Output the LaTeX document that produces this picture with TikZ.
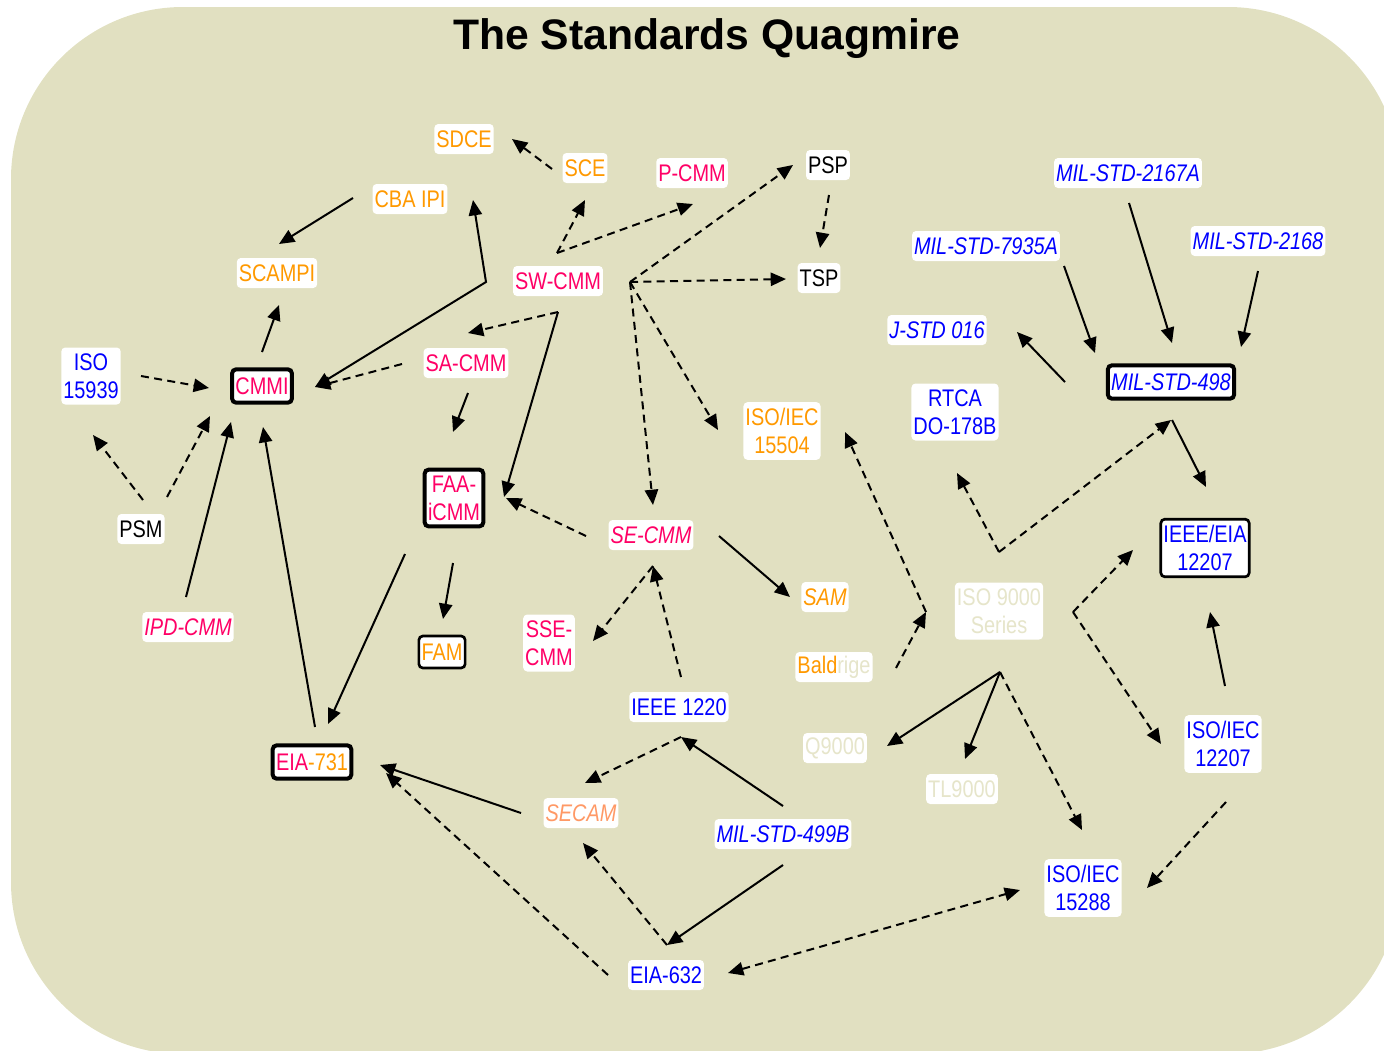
\documentclass[tikz,border=0pt]{standalone}
\usepackage{fontspec}
\setmainfont{Liberation Sans}
\newfontfamily\lblfont[FakeStretch=0.83]{Liberation Sans}
\usepackage{tikz}
\usetikzlibrary{calc,arrows.meta}
\usepackage{xcolor}
\definecolor{quag}{HTML}{E1E0C1}
\definecolor{orng}{HTML}{FF9900}
\definecolor{pnk}{HTML}{FF0066}
\definecolor{blu}{HTML}{0000FF}
\definecolor{slmn}{HTML}{FF9966}
\definecolor{pale}{HTML}{E6E5CA}

\begin{document}
\begin{tikzpicture}[x=0.75pt,y=-0.75pt,
  lbl/.style={fill=white, rounded corners=3pt, inner xsep=1.5pt, inner ysep=0pt, minimum height=22.5pt, align=center, font=\lblfont\fontsize{18}{21}\selectfont},
  two/.style={inner ysep=4.5pt},
  framed/.style={lbl, draw=black, line width=3pt, minimum height=25pt, inner xsep=2.5pt},
  thinframed/.style={lbl, draw=black, line width=2pt, minimum height=24pt, inner xsep=2pt},
  arr/.style={-{Triangle[length=11.5pt,width=10pt]}, line width=1.5pt},
  arrr/.style={{Triangle[length=11.5pt,width=10pt]}-{Triangle[length=11.5pt,width=10pt]}, line width=1.5pt},
  dsh/.style={dash pattern=on 6pt off 4pt}]
\useasboundingbox (0,0) rectangle (1384,1050);
\clip (0,0) rectangle (1384,1050);
\fill [quag, rounded corners=129pt] (11,7) rectangle (1400,1054);
\node [font=\bfseries\fontsize{32}{36}\selectfont] (title) at (707,39) {The Standards Quagmire};

% CMM family
\node [lbl, text=orng] (sdce) at (464,139) {SDCE};
\node [lbl, text=orng] (sce) at (585,168) {SCE};
\node [lbl, text=pnk] (pcmm) at (692,173) {P-CMM};
\node [lbl] (psp) at (828,165) {PSP};
\node [lbl] (tsp) at (819,278) {TSP};
\node [lbl, text=orng] (cbaipi) at (410,199) {CBA IPI};
\node [lbl, text=orng] (scampi) at (277,273) {SCAMPI};
\node [lbl, text=pnk] (swcmm) at (558,281) {SW-CMM};
\node [lbl, text=pnk] (sacmm) at (466,363) {SA-CMM};
\node [lbl, two, text=blu] (iso15939) at (91,376) {ISO\\15939};
\node [framed, text=pnk] (cmmi) at (262,386) {CMMI};
\node [lbl] (psm) at (141,529) {PSM};
\node [framed, two, text=pnk] (faaicmm) at (454,498) {FAA-\\iCMM};
\node [lbl, text=pnk] (secmm) at (651,535) {\itshape SE-CMM};
\node [lbl, two, text=orng] (iso15504) at (782,431) {ISO/IEC\\15504};
\node [lbl, text=orng] (sam) at (825,597) {\itshape SAM};
\node [lbl, two, text=pnk] (ssecmm) at (549,643) {SSE-\\CMM};
\node [thinframed, text=orng] (fam) at (442,652) {FAM};
\node [lbl, text=pnk] (ipdcmm) at (188,627) {\itshape IPD-CMM};
\node [framed] (eia731) at (312,762) {\textcolor{pnk}{EIA}\textcolor{orng}{-731}};
\node [lbl] (baldrige) at (834,667) {\textcolor{orng}{Bald}\textcolor{pale}{rige}};

% military and industry standards
\node [lbl, text=blu] (jstd) at (937,330) {\itshape J-STD 016};
\node [lbl, two, text=blu] (rtca) at (955,412) {RTCA\\DO-178B};
\node [lbl, text=blu] (mil2167) at (1128,173) {\itshape MIL-STD-2167A};
\node [lbl, text=blu] (mil7935) at (986,246) {\itshape MIL-STD-7935A};
\node [lbl, text=blu] (mil2168) at (1258,241) {\itshape MIL-STD-2168};
\node [framed, text=blu] (mil498) at (1171,382) {\itshape MIL-STD-498};
\node [thinframed, two, text=blu] (ieeeeia) at (1205,548) {IEEE/EIA\\12207};
\node [lbl, two, text=pale] (iso9000) at (999,611) {ISO 9000\\Series};
\node [lbl, text=blu] (ieee1220) at (679,707) {IEEE 1220};
\node [lbl, text=pale] (qnine) at (835,748) {Q9000};
\node [lbl, text=pale] (tlnine) at (962,789) {TL9000};
\node [lbl, two, text=blu] (iso12207) at (1223,744) {ISO/IEC\\12207};
\node [lbl, text=slmn] (secam) at (581,813) {\itshape SECAM};
\node [lbl, text=blu] (mil499) at (783,834) {\itshape MIL-STD-499B};
\node [lbl, two, text=blu] (iso15288) at (1083,888) {ISO/IEC\\15288};
\node [lbl, text=blu] (eia632) at (666,975) {EIA-632};

% bend points
\coordinate (swtop) at ($(swcmm)+(-1,-28)$);
\coordinate (swright) at ($(swcmm)+(72,1)$);
\coordinate (swbot) at ($(swcmm)+(0,31)$);
\coordinate (cbabend) at (486,282);
\coordinate (sejoin) at ($(secmm)+(2,31)$);
\coordinate (ieeejoin) at ($(ieee1220)+(2,30)$);
\coordinate (eiajoin) at ($(eia632)+(1,-30)$);
\coordinate (isojoin) at ($(iso9000)+(1,61)$);
\coordinate (rtcajoin) at ($(iso9000)+(0,-59)$);
\coordinate (eiaiso) at ($(iso9000)+(74,1)$);
\coordinate (baldjoin) at ($(baldrige)+(92,-55)$);

\draw [arr, dsh] ($(sce)+(-33,1)$) -- ($(sdce)+(48,0)$);
\draw [arr] ($(cbaipi)+(-57,-1)$) -- ($(scampi)+(2,-29)$);
\draw [arr, dsh] (swtop) -- ($(sce)+(0,32)$);
\draw [arr, dsh] (swtop) -- ($(pcmm)+(1,31)$);
\draw [arr, dsh] (swright) -- ($(psp)+(-35,0)$);
\draw [arr, dsh] (swright) -- ($(tsp)+(-33,1)$);
\draw [arr, dsh] (swright) -- ($(iso15504)+(-64,-1)$);
\draw [arr, dsh] (swright) -- ($(secmm)+(2,-30)$);
\draw [arr, dsh] ($(psp)+(1,30)$) -- ($(tsp)+(1,-30)$);
\draw [arr, dsh] (swbot) -- ($(sacmm)+(2,-30)$);
\draw [arr] (swbot) -- ($(faaicmm)+(50,-1)$);
\draw [arr] ($(sacmm)+(2,30)$) -- ($(faaicmm)+(-1,-66)$);
\draw [arr, dsh] ($(sacmm)+(-64,1)$) -- ($(cmmi)+(53,1)$);
\draw [arrr] ($(cmmi)+(53,1)$) -- (cbabend) -- ($(cbaipi)+(63,1)$);
\draw [arr] ($(cmmi)+(0,-34)$) -- ($(scampi)+(2,32)$);
\draw [arr, dsh] ($(iso15939)+(50,0)$) -- ($(cmmi)+(-53,2)$);
\draw [arr, dsh] ($(psm)+(2,-29)$) -- ($(iso15939)+(2,59)$);
\draw [arr, dsh] ($(psm)+(26,-32)$) -- ($(cmmi)+(-52,30)$);
\draw [arr] ($(ipdcmm)+(-2,-30)$) -- ($(cmmi)+(-31,36)$);
\draw [arr] ($(eia731)+(3,-35)$) -- ($(cmmi)+(1,41)$);
\draw [arr] ($(faaicmm)+(-49,56)$) -- ($(eia731)+(16,-38)$);
\draw [arr] ($(faaicmm)+(-1,65)$) -- ($(fam)+(1,-33)$);
\draw [arr, dsh] ($(secmm)+(-65,1)$) -- ($(faaicmm)+(52,0)$);
\draw [arr] ($(secmm)+(68,1)$) -- ($(sam)+(-35,0)$);
\draw [arr, dsh] ($(ieee1220)+(2,-30)$) -- (sejoin);
\draw [arr, dsh] (sejoin) -- ($(ssecmm)+(44,-2)$);
\draw [arr] ($(mil499)+(0,-28)$) -- (ieeejoin);
\draw [arr, dsh] (ieeejoin) -- ($(secam)+(4,-30)$);
\draw [arr] ($(mil499)+(0,31)$) -- (eiajoin);
\draw [arr, dsh] (eiajoin) -- ($(secam)+(2,30)$);
\draw [arrr, dsh] ($(eia632)+(62,-2)$) -- ($(iso15288)+(-63,2)$);
\draw [arr, dsh] ($(iso12207)+(3,58)$) -- ($(iso15288)+(64,0)$);
\draw [arr] ($(secam)+(-60,0)$) -- ($(eia731)+(68,3)$);
\draw [arr, dsh] ($(eia632)+(-58,0)$) -- ($(eia731)+(74,11)$);
\draw [arr] (isojoin) -- ($(qnine)+(52,-2)$);
\draw [arr] (isojoin) -- ($(tlnine)+(3,-30)$);
\draw [arr, dsh] (isojoin) -- ($(iso15288)+(-1,-58)$);
\draw [arr, dsh] (rtcajoin) -- ($(rtca)+(2,61)$);
\draw [arr, dsh] (rtcajoin) -- ($(mil498)+(0,38)$);
\draw [arr] ($(mil498)+(1,38)$) -- ($(ieeeeia)+(1,-61)$);
\draw [arr] ($(iso12207)+(2,-58)$) -- ($(ieeeeia)+(5,64)$);
\draw [arr, dsh] (eiaiso) -- ($(ieeeeia)+(-72,2)$);
\draw [arr, dsh] (eiaiso) -- ($(iso12207)+(-62,0)$);
\draw [arr, dsh] ($(baldrige)+(62,1)$) -- (baldjoin);
\draw [arr, dsh] (baldjoin) -- ($(iso15504)+(63,1)$);
\draw [arr] ($(mil2167)+(1,30)$) -- ($(mil498)+(1,-39)$);
\draw [arr] ($(mil7935)+(78,20)$) -- ($(mil498)+(-76,-29)$);
\draw [arr] ($(mil2168)+(0,30)$) -- ($(mil498)+(70,-35)$);
\draw [arr] ($(mil498)+(-106,0)$) -- ($(jstd)+(80,2)$);
\end{tikzpicture}
\end{document}
